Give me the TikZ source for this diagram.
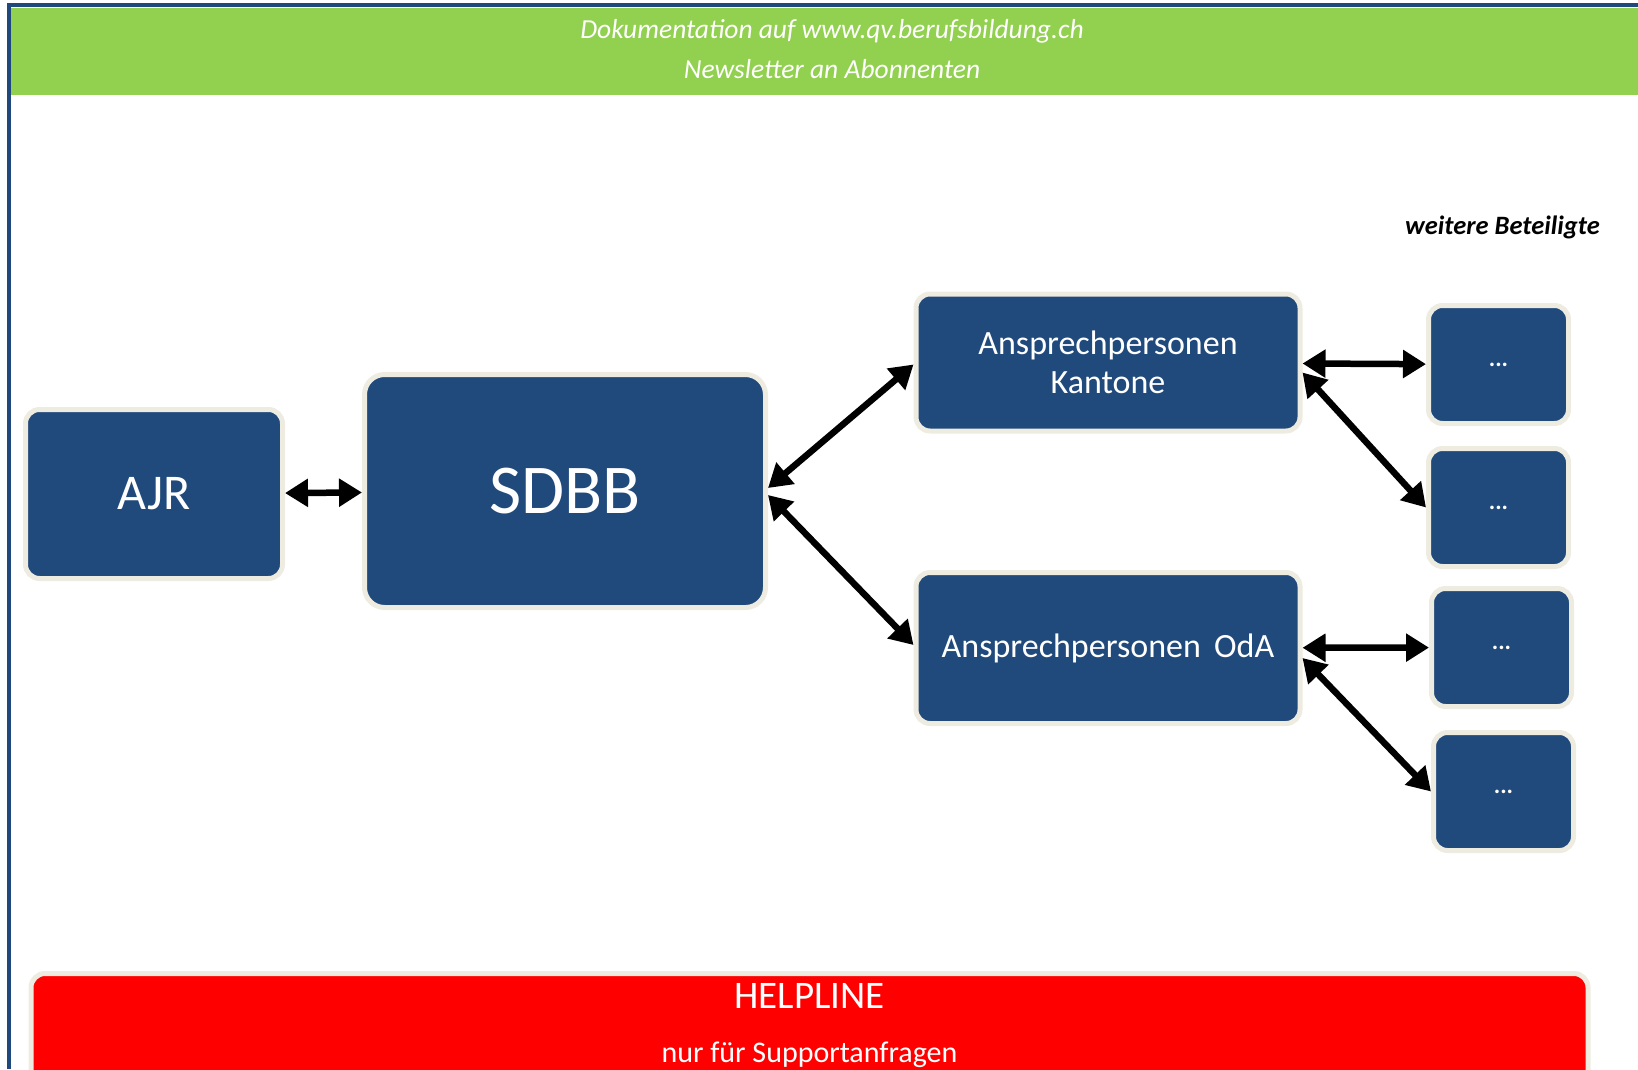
\documentclass[tikz,border=0pt]{standalone}
\usepackage{fontspec}
\setmainfont{Carlito}
\usetikzlibrary{arrows.meta,positioning}
\definecolor{boxblue}{HTML}{214A7C}
\definecolor{halo}{HTML}{EEECE1}
\definecolor{frameblue}{HTML}{1F497D}
\definecolor{topgreen}{HTML}{92D050}
\definecolor{helpred}{HTML}{FF0000}

\begin{document}
\begin{tikzpicture}[x=1pt, y=-1pt,
    blk/.style={draw=halo, line width=5pt, fill=boxblue, rounded corners=14pt, text=white, align=center, inner sep=0pt},
    mini/.style={blk, minimum width=140pt, minimum height=118pt, font=\bfseries\fontsize{24}{28}\selectfont},
    arr/.style={{Triangle[length=23pt,width=27pt]}-{Triangle[length=23pt,width=27pt]}, line width=6.5pt, black},
    hdr/.style={text=white, font=\itshape\fontsize{27.5}{32}\selectfont, inner sep=0pt}
]
\useasboundingbox (0,0) rectangle (1638,1069);
\clip (0,0) rectangle (1638,1069);

% frame and green bar
\fill[topgreen] (10,8) rectangle (1638,95);
\draw[frameblue, line width=4pt] (9,1069) -- (9,5) -- (1638,5);
\node[hdr, anchor=base] (doku) at (832,38) {Dokumentation auf www.qv.berufsbildung.ch};
\node[hdr, anchor=base] (news) at (832,78) {Newsletter an Abonnenten};

\node[font=\bfseries\itshape\fontsize{26.5}{30}\selectfont, anchor=base east, inner sep=0pt] (weit) at (1600,234) {weitere Beteiligte};

% main boxes
\node[blk, minimum width=257pt, minimum height=169pt, font=\fontsize{50}{60}\selectfont] (ajr) at (154,494) {AJR};
\node[blk, minimum width=401pt, minimum height=233pt, rounded corners=20pt, font=\fontsize{70}{84}\selectfont] (sdbb) at (565,491) {SDBB};
\node[blk, minimum width=384pt, minimum height=137pt, font=\fontsize{34}{39}\selectfont] (kant) at (1108,362.5) {Ansprechpersonen\\Kantone};
\node[blk, minimum width=384pt, minimum height=151pt, font=\fontsize{34}{39}\selectfont] (oda) at (1108,648) {Ansprechpersonen\, OdA};

% weitere Beteiligte
\node[mini] (s1) at (1498.5,364.5) {...};
\node[mini] (s2) at (1498.5,507.5) {...};
\node[mini] (s3) at (1501.5,647.5) {...};
\node[mini] (s4) at (1503.5,791.5) {...};

% helpline
\node[blk, fill=helpred, minimum width=1557pt, minimum height=160pt, anchor=north] (help) at (809.5,971) {};
\node[text=white, font=\fontsize{39}{46}\selectfont, inner sep=0pt] (hl) at (809.5,996) {HELPLINE};
\node[text=white, font=\fontsize{30}{36}\selectfont, anchor=base, inner sep=0pt] (sup) at (809.5,1062) {nur für Supportanfragen};

\draw[arr] (ajr) -- (sdbb);
\draw[arr] ([yshift=3pt]sdbb.east) -- ([yshift=-2pt]kant.west);
\draw[arr] ([yshift=-4pt]sdbb.east) -- ([yshift=3pt]oda.west);
\draw[arr] (kant) -- (s1);
\draw[arr] ([yshift=-10pt]kant.east) -- (s2.west);
\draw[arr] (oda) -- (s3);
\draw[arr] ([yshift=-10pt]oda.east) -- (s4.west);
\end{tikzpicture}
\end{document}
